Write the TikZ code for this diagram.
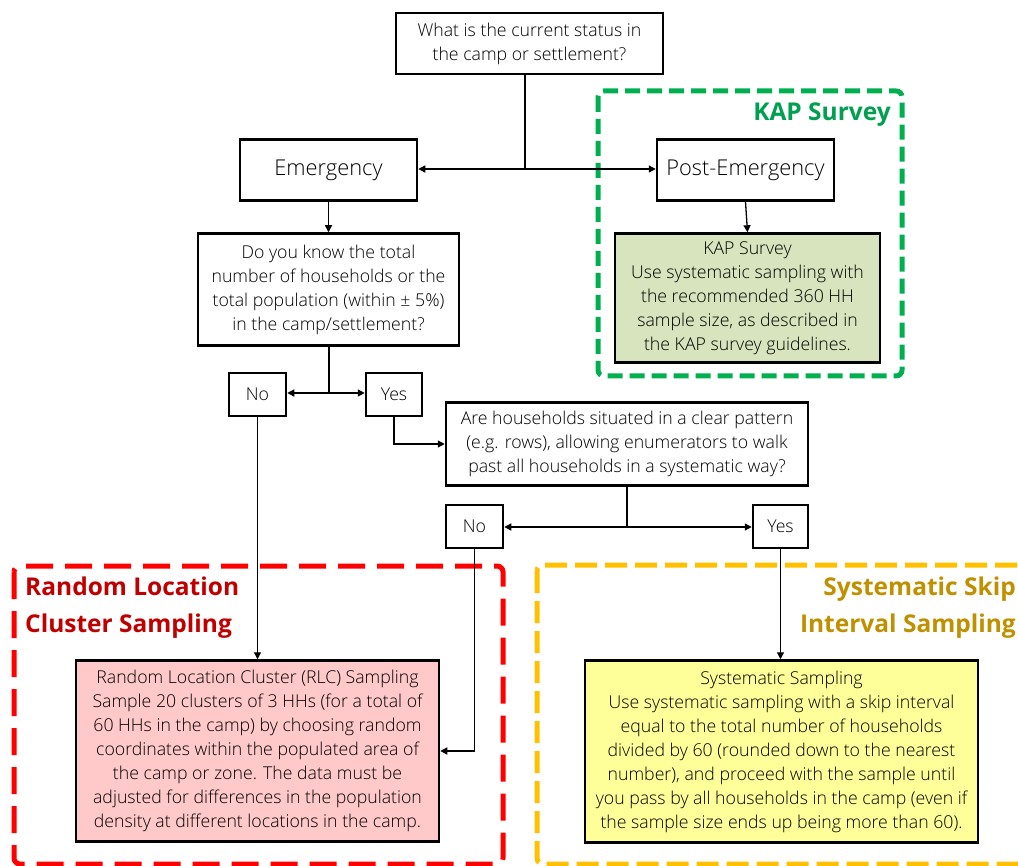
\documentclass[tikz,border=0pt]{standalone}
\usepackage{fontspec}
\setmainfont{Open Sans Light}[BoldFont={Open Sans Bold}]
\usetikzlibrary{arrows.meta}
\definecolor{kapgreen}{HTML}{00B050}
\definecolor{kaptext}{HTML}{00A050}
\definecolor{rlcred}{HTML}{FF0000}
\definecolor{rlctext}{HTML}{C00000}
\definecolor{sysyellow}{HTML}{FFC000}
\definecolor{systext}{HTML}{BF9000}
\definecolor{kapfill}{HTML}{D7E4BD}
\definecolor{rlcfill}{HTML}{FFC9C9}
\definecolor{sysfill}{HTML}{FFFF99}
\begin{document}
\begin{tikzpicture}[x=1pt,y=-1pt,
  box/.style={draw=black,line width=2.5pt,fill=white,inner sep=0pt,align=center,
    font=\fontsize{17.7}{24}\selectfont},
  bigbox/.style={box,font=\fontsize{21.8}{26}\selectfont},
  conn/.style={line width=1.3pt,-{Triangle[width=7pt,length=7pt]}},
  plain/.style={line width=1.3pt},
  frame/.style={line width=5pt,rounded corners=6pt},
  title/.style={font=\fontsize{24.5}{37}\selectfont\bfseries,inner sep=0pt}]
\useasboundingbox (0,0) rectangle (1018,866);
% frames
\draw[frame,draw=kapgreen,dash pattern=on 15pt off 7pt] (598,91) rectangle (902,376);
\draw[frame,draw=rlcred,dash pattern=on 27pt off 12pt] (14,566) rectangle (503,864);
\draw[frame,draw=sysyellow,dash pattern=on 22pt off 8pt] (537,565) rectangle (1040,864);
% titles
\node[title,text=kaptext,anchor=east] (tkap) at (891,115) {KAP Survey};
\node[title,text=rlctext,anchor=north west,align=left] (trlc) at (25,577) {Random Location\\Cluster Sampling};
\node[title,text=systext,anchor=north east,align=right] (tsys) at (1016,577) {Systematic Skip\\Interval Sampling};
% nodes
\node[box,minimum width=267pt,minimum height=61pt] (top) at (529.5,43.5) {What is the current status in\\the camp or settlement?};
\node[bigbox,minimum width=177pt,minimum height=61pt] (emerg) at (328.5,170) {Emergency};
\node[bigbox,minimum width=177pt,minimum height=61pt] (post) at (745.5,170) {Post-Emergency};
\node[box,fill=kapfill,minimum width=265pt,minimum height=129pt] (kap) at (747.5,298) {KAP Survey\\Use systematic sampling with\\the recommended 360 HH\\sample size, as described in\\the KAP survey guidelines.};
\node[box,minimum width=261pt,minimum height=112pt] (q1) at (328.5,289.5) {Do you know the total\\number of households or the\\total population (within ± 5\%)\\in the camp/settlement?};
\node[box,minimum width=57pt,minimum height=43pt] (no1) at (257.5,394.5) {No};
\node[box,minimum width=56pt,minimum height=43pt] (yes1) at (394,394.5) {Yes};
\node[box,minimum width=362pt,minimum height=83pt] (q2) at (627,444) {Are households situated in a clear pattern\\(e.g. rows), allowing enumerators to walk\\past all households in a systematic way?};
\node[box,minimum width=57pt,minimum height=43pt] (no2) at (474.5,526.5) {No};
\node[box,minimum width=55pt,minimum height=43pt] (yes2) at (780.5,526.5) {Yes};
\node[box,fill=rlcfill,minimum width=363pt,minimum height=181pt] (rlc) at (257.5,751) {Random Location Cluster (RLC) Sampling\\Sample 20 clusters of 3 HHs (for a total of\\60 HHs in the camp) by choosing random\\coordinates within the populated area of\\the camp or zone. The data must be\\adjusted for differences in the population\\density at different locations in the camp.};
\node[box,fill=sysfill,minimum width=393pt,minimum height=182pt] (sys) at (781.5,751.5) {Systematic Sampling\\Use systematic sampling with a skip interval\\equal to the total number of households\\divided by 60 (rounded down to the nearest\\number), and proceed with the sample until\\you pass by all households in the camp (even if\\the sample size ends up being more than 60).};
% connectors
\coordinate (j1) at (525,169);
\coordinate (j2) at (329,393);
\coordinate (j3) at (627,527);
\draw[plain] (j1 |- top.south) -- (j1);
\draw[conn] (j1) -- (j1 -| emerg.east);
\draw[conn] (j1) -- (j1 -| post.west);
\draw[conn] (emerg.south) -- (q1.north);
\draw[conn] (post.south) -- (kap.north);
\draw[plain] (j2 |- q1.south) -- (j2);
\draw[conn] (j2) -- (j2 -| no1.east);
\draw[conn] (j2) -- (j2 -| yes1.west);
\draw[conn] (yes1.south) |- (q2.west);
\draw[plain] (q2.south) -- (j3);
\draw[conn] (j3) -- (j3 -| no2.east);
\draw[conn] (j3) -- (j3 -| yes2.west);
\draw[conn] (no1.south) -- (rlc.north);
\draw[conn] (no2.south) |- (rlc.east);
\draw[conn] (yes2.south) -- (yes2.south |- sys.north);
\end{tikzpicture}
\end{document}
